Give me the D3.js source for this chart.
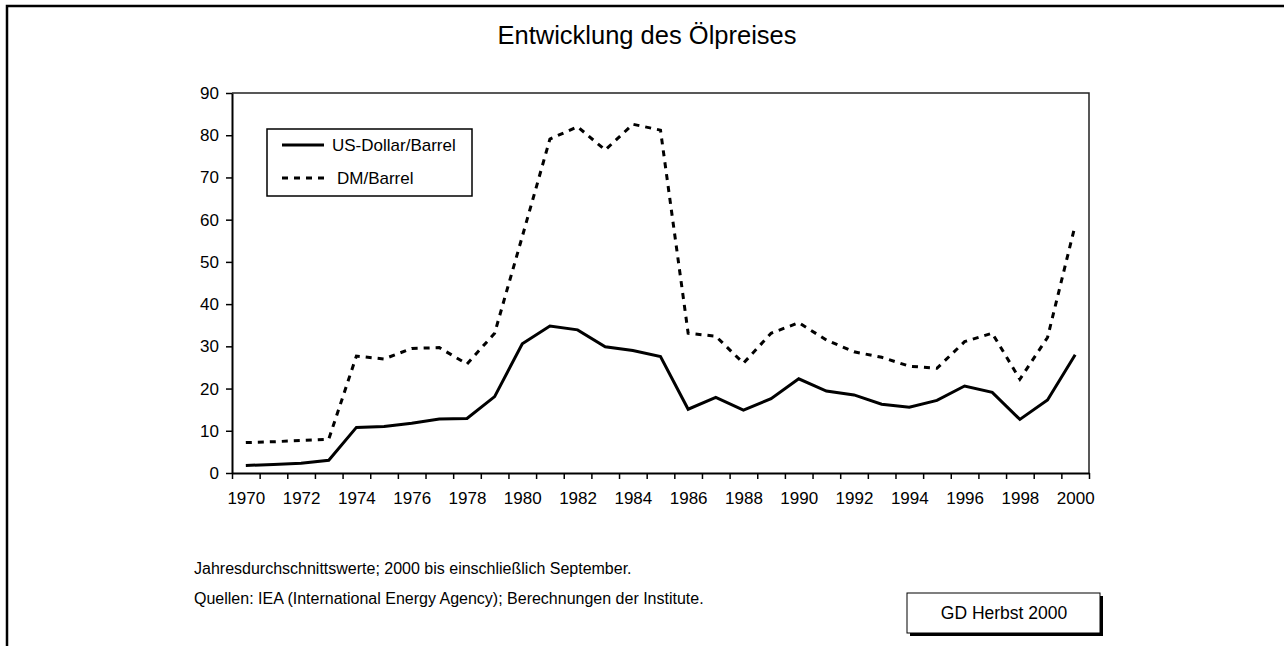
<!DOCTYPE html>
<html>
<head>
<meta charset="utf-8">
<script src="https://cdn.jsdelivr.net/npm/d3@7"></script>
<style>
  body { margin: 0; background: #fff; }
  svg { display: block; font-family: Arial, "Liberation Sans", sans-serif; }
</style>
</head>
<body>
<svg id="chart" width="1284" height="646"></svg>
<script>
// Jahre und Werte (Jahresdurchschnitt)
const annees = d3.range(1970, 2001);
const usd = [1.8, 2.0, 2.3, 3.0, 10.8, 11.0, 11.8, 12.8, 12.9, 18.1,
             30.6, 34.8, 33.9, 29.9, 29.0, 27.6, 15.1, 17.9, 14.9, 17.6,
             22.3, 19.4, 18.5, 16.3, 15.6, 17.2, 20.6, 19.1, 12.7, 17.3, 28.0];
const dm = [7.2, 7.4, 7.7, 8.0, 27.7, 27.0, 29.5, 29.7, 25.8, 33.1,
            56.0, 79.1, 82.0, 76.5, 82.6, 81.2, 33.1, 32.4, 26.0, 33.1,
            35.6, 31.5, 28.7, 27.4, 25.3, 24.8, 31.1, 33.1, 22.2, 32.1, 58.7];
const graduationsY = d3.range(0, 91, 10);
const etiquettesX = d3.range(1970, 2001, 2);
const series = [
  {nom: "US-Dollar/Barrel", valeurs: usd, tirets: null},
  {nom: "DM/Barrel", valeurs: dm, tirets: "6,6"}
];

const svg = d3.select("#chart");
const gauche = 232, droite = 1089, haut = 93, bas = 473;

// cadre extérieur (haut + gauche)
svg.append("path")
  .attr("d", "M7,646 L7,6 L1284,6")
  .attr("fill", "none").attr("stroke", "#000").attr("stroke-width", 2.5);

// titre
svg.append("text")
  .attr("x", 647).attr("y", 44)
  .attr("text-anchor", "middle")
  .style("font-size", "25.5px")
  .text("Entwicklung des Ölpreises");

const x = d3.scaleLinear().domain([1969.5, 2000.5]).range([gauche, droite]);
const y = d3.scaleLinear().domain([0, 90]).range([bas, haut]);

// bord haut et droit de la zone
svg.append("path")
  .attr("d", `M${gauche},${haut} L${droite},${haut} L${droite},${bas}`)
  .attr("fill", "none").attr("stroke", "#222").attr("stroke-width", 1.5);

// axe Y
const axeY = svg.append("g")
  .attr("transform", `translate(${gauche},0)`)
  .call(d3.axisLeft(y).tickValues(graduationsY).tickSize(6).tickPadding(7).tickSizeOuter(0));
axeY.select(".domain").attr("stroke-width", 2);
axeY.selectAll(".tick line").attr("stroke-width", 1.5);
axeY.selectAll("text").style("font-size", "17px").attr("fill", "#000");

// axe X : graduations aux limites des catégories
const limites = d3.range(1969.5, 2001, 1);
const axeX = svg.append("g")
  .attr("transform", `translate(0,${bas})`)
  .call(d3.axisBottom(x).tickValues(limites).tickSize(6).tickFormat("").tickSizeOuter(0));
axeX.select(".domain").attr("stroke-width", 2);
axeX.selectAll(".tick line").attr("stroke-width", 1.5);

// étiquettes des années
const etiqX = svg.append("g")
  .attr("transform", `translate(0,${bas})`)
  .call(d3.axisBottom(x).tickValues(etiquettesX).tickFormat(d3.format("d")).tickSize(0).tickPadding(19));
etiqX.select(".domain").remove();
etiqX.selectAll("text").style("font-size", "17px").attr("fill", "#000");

// courbes
const ligne = v => d3.line()
  .x((d, i) => x(annees[i]))
  .y(d => y(d))(v);

svg.selectAll(".courbe")
  .data(series)
  .join("path")
  .attr("class", "courbe")
  .attr("d", d => ligne(d.valeurs))
  .attr("fill", "none")
  .attr("stroke", "#000")
  .attr("stroke-width", 3)
  .attr("stroke-linejoin", "miter")
  .attr("stroke-dasharray", d => d.tirets);

// légende
const legende = svg.append("g");
legende.append("rect")
  .attr("x", 267).attr("y", 129).attr("width", 205).attr("height", 67)
  .attr("fill", "#fff").attr("stroke", "#000").attr("stroke-width", 1.5);
const lignesLeg = legende.selectAll(".leg")
  .data(series)
  .join("g")
  .attr("class", "leg")
  .attr("transform", (d, i) => `translate(0,${145 + i * 33})`);
lignesLeg.append("line")
  .attr("x1", 282).attr("x2", 324)
  .attr("stroke", "#000").attr("stroke-width", 3)
  .attr("stroke-dasharray", d => d.tirets);
lignesLeg.append("text")
  .attr("x", (d, i) => i === 0 ? 332 : 337)
  .attr("y", 6)
  .style("font-size", "17px")
  .text(d => d.nom);

// notes
svg.append("text").attr("x", 194).attr("y", 574).style("font-size", "16px")
  .text("Jahresdurchschnittswerte; 2000 bis einschließlich September.");
svg.append("text").attr("x", 194).attr("y", 604).style("font-size", "16px")
  .text("Quellen: IEA (International Energy Agency); Berechnungen der Institute.");

// cartouche
svg.append("rect")
  .attr("x", 910).attr("y", 596).attr("width", 193).attr("height", 40)
  .attr("fill", "#000");
svg.append("rect")
  .attr("x", 907).attr("y", 593).attr("width", 193).attr("height", 40)
  .attr("fill", "#fff").attr("stroke", "#000").attr("stroke-width", 1);
svg.append("text")
  .attr("x", 1004).attr("y", 619)
  .attr("text-anchor", "middle")
  .style("font-size", "17.5px")
  .text("GD Herbst 2000");
</script>
</body>
</html>
